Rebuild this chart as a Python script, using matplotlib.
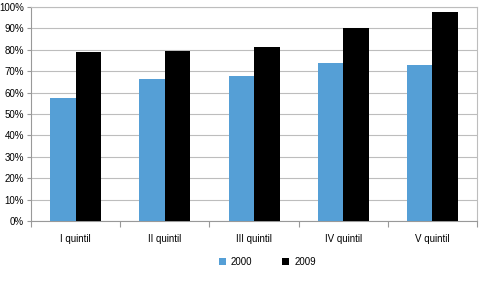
import matplotlib.pyplot as plt
from matplotlib.ticker import PercentFormatter
import numpy as np

categories = ['I quintil', 'II quintil', 'III quintil', 'IV quintil', 'V quintil']
vals_2000 = [57.6, 66.4, 67.6, 73.7, 73.0]
vals_2009 = [78.8, 79.3, 81.3, 90.0, 97.7]

plt.rcParams['font.family'] = ['Liberation Sans', 'DejaVu Sans']

fig = plt.figure(figsize=(4.81, 2.81), dpi=100)
ax = fig.add_axes([0.0645, 0.2135, 0.9272, 0.7615])

x = np.arange(len(categories))
w = 0.286
ax.bar(x - w / 2, vals_2000, w, color='#559fd6', label='2000', zorder=3)
ax.bar(x + w / 2, vals_2009, w, color='#000000', label='2009', zorder=3)

ax.set_xlim(-0.5, len(categories) - 0.5)
ax.set_ylim(0, 100)
ax.set_yticks(np.arange(0, 101, 10))
ax.yaxis.set_major_formatter(PercentFormatter(decimals=0))
ax.grid(axis='y', color='#bdbdbd', linewidth=0.8, zorder=0)

ax.set_xticks(x)
ax.set_xticklabels(categories)
ax.set_xticks(np.arange(-0.5, len(categories), 1), minor=True)
ax.tick_params(axis='x', which='major', length=0, pad=9, labelsize=7)
ax.tick_params(axis='x', which='minor', length=4, color='#999999', width=0.8)
ax.tick_params(axis='y', length=3, color='#999999', width=0.8, labelsize=7, pad=2)

for side in ['top', 'right', 'left', 'bottom']:
    ax.spines[side].set_color('#bdbdbd')
    ax.spines[side].set_linewidth(0.8)
ax.spines['left'].set_color('#999999')
ax.spines['bottom'].set_color('#999999')

ax.legend(loc='upper center', bbox_to_anchor=(0.53, -0.125), ncol=2, frameon=False,
          fontsize=7, handlelength=0.7, handleheight=0.7, columnspacing=3.1, handletextpad=0.5)

fig.savefig('out.png', dpi=100)
